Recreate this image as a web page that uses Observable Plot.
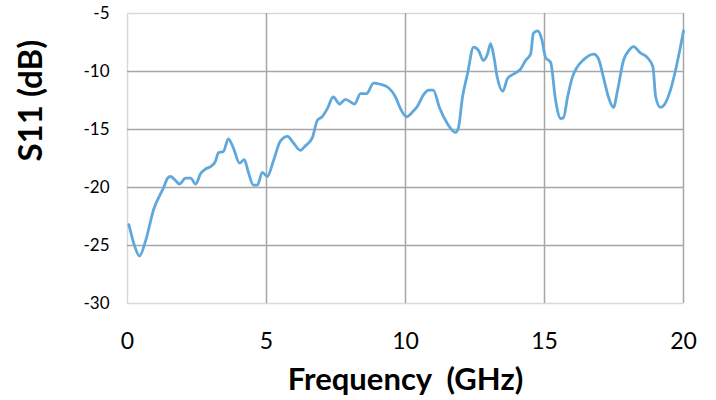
<!DOCTYPE html>
<html>
<head>
<meta charset="utf-8">
<script src="https://cdn.jsdelivr.net/npm/d3@7"></script>
<script src="https://cdn.jsdelivr.net/npm/@observablehq/plot@0.6"></script>
<style>
  html, body { margin: 0; padding: 0; background: #fff; }
  #chart { width: 716px; height: 400px; }
</style>
</head>
<body>
<div id="chart"></div>
<script>
const freq = [0.05,0.25,0.43,0.65,0.94,1.3,1.44,1.55,1.73,1.87,2.09,2.27,2.45,2.63,2.81,2.99,3.17,3.27,3.45,3.63,3.81,4.03,4.2,4.35,4.53,4.67,4.85,5.03,5.25,5.5,5.76,5.95,6.22,6.4,6.65,6.83,7.0,7.19,7.4,7.63,7.84,8.17,8.38,8.6,8.85,9.1,9.39,9.64,9.82,10.04,10.25,10.43,10.65,10.83,11.0,11.22,11.51,11.8,11.9,12.05,12.23,12.45,12.63,12.8,12.95,13.06,13.17,13.3,13.5,13.67,13.9,14.14,14.32,14.5,14.6,14.75,14.9,15.04,15.22,15.4,15.58,15.68,15.83,16.0,16.18,16.4,16.77,16.94,17.12,17.3,17.48,17.63,17.84,18.03,18.2,18.45,18.7,18.9,19.0,19.17,19.3,19.53,19.75,20.0];
const s11 = [-23.2,-25.0,-25.9,-24.6,-21.9,-20.0,-19.2,-19.05,-19.4,-19.7,-19.2,-19.2,-19.7,-18.8,-18.4,-18.2,-17.7,-17.0,-16.9,-15.8,-16.6,-17.9,-17.6,-18.7,-19.8,-19.8,-18.7,-19.05,-17.7,-16.0,-15.6,-16.1,-16.8,-16.4,-15.7,-14.2,-13.9,-13.2,-12.2,-12.8,-12.4,-12.8,-11.9,-11.9,-11.0,-11.1,-11.4,-12.2,-13.2,-13.9,-13.5,-13.0,-12.0,-11.6,-11.6,-13.1,-14.5,-15.25,-14.9,-12.2,-10.2,-7.9,-8.2,-9.05,-8.5,-7.6,-8.6,-10.5,-11.7,-10.6,-10.2,-9.8,-9.05,-8.5,-6.7,-6.5,-7.2,-8.8,-9.2,-12.5,-14.05,-14.0,-12.2,-10.5,-9.6,-9.0,-8.5,-8.9,-10.5,-12.2,-13.1,-11.6,-9.05,-8.2,-7.85,-8.4,-8.8,-9.6,-12.2,-13.1,-12.9,-11.6,-9.5,-6.5];
const xTicks = [0, 5, 10, 15, 20];
const yTicks = [-5, -10, -15, -20, -25, -30];
const xLabel = "Frequency  (GHz)";
const yLabel = "S11 (dB)";

const data = freq.map((f, i) => ({f, v: s11[i]}));

const chart = Plot.plot({
  width: 716,
  height: 400,
  marginLeft: 127,
  marginRight: 33,
  marginTop: 13,
  marginBottom: 97,
  style: {fontFamily: "Lato, 'Open Sans', sans-serif", background: "#fff", color: "#000"},
  x: {domain: [0, 20]},
  y: {domain: [-30, -5]},
  marks: [
    Plot.ruleY([-5, -30], {stroke: "#d9d9d9", strokeWidth: 1.5}),
    Plot.ruleX([0], {stroke: "#d9d9d9", strokeWidth: 1.5}),
    Plot.gridY([-10, -15, -20, -25], {stroke: "#a6a6a6", strokeOpacity: 1, strokeWidth: 1.5}),
    Plot.gridX([5, 10, 15, 20], {stroke: "#a6a6a6", strokeOpacity: 1, strokeWidth: 1.5}),
    Plot.axisY(yTicks, {tickSize: 0, tickPadding: 18, fontSize: 17, tickFormat: d => String(d), label: null}),
    Plot.axisX(xTicks, {tickSize: 0, tickPadding: 29, fontSize: 23, tickFormat: d => String(d), label: null}),
    Plot.line(data, {x: "f", y: "v", stroke: "#5fa8dc", strokeWidth: 2.8, curve: "monotone-x"}),
    Plot.text([xLabel], {frameAnchor: "bottom", dy: 86, fontSize: 31, fontWeight: "bold", fill: "#000"}),
    Plot.text([yLabel], {frameAnchor: "left", rotate: -90, dx: -96, dy: 3, fontSize: 33, fontWeight: "bold", fill: "#000"})
  ]
});
document.getElementById("chart").appendChild(chart);
</script>
</body>
</html>
